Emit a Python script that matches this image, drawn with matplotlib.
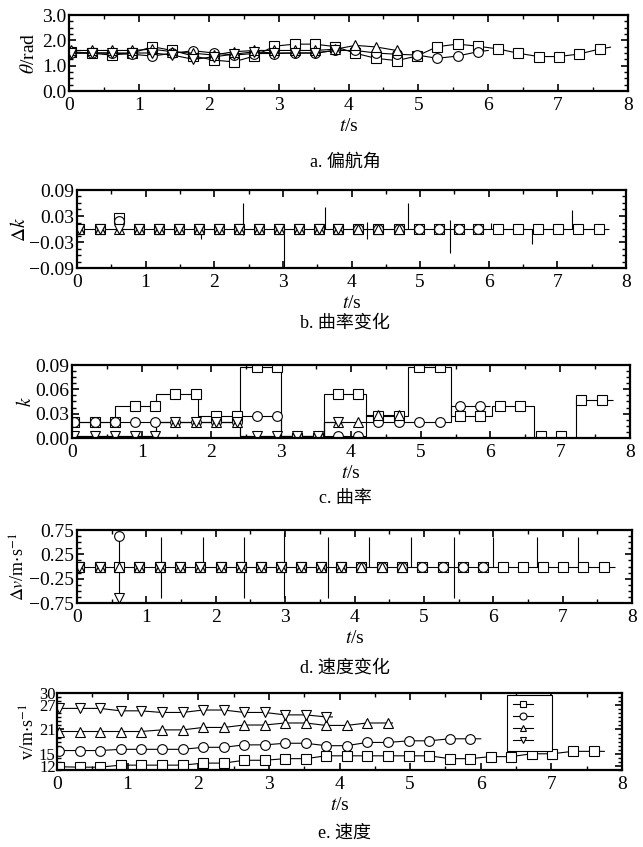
import matplotlib
matplotlib.use('Agg')
import matplotlib.pyplot as plt
from matplotlib.ticker import MultipleLocator
from matplotlib.lines import Line2D

plt.rcParams['font.family'] = ['Liberation Serif', 'Noto Sans CJK SC']
plt.rcParams['mathtext.fontset'] = 'stix'

# sample times (s) of the markers
t_all = [0.03, 0.33, 0.61, 0.90, 1.19, 1.48, 1.78, 2.07, 2.36, 2.65, 2.94,
         3.23, 3.52, 3.81, 4.10, 4.39, 4.69, 4.98, 5.27, 5.56, 5.85, 6.14,
         6.43, 6.72, 7.01, 7.30, 7.60]
# end of each vehicle's line
t_end_sq = 7.75
t_end_ci = 6.0
t_end_up = 4.75
t_end_dn = 3.9

# a. yaw angle (rad)
theta_sq = [1.55, 1.49, 1.42, 1.49, 1.75, 1.60, 1.38, 1.22, 1.15, 1.38, 1.77,
            1.85, 1.85, 1.75, 1.49, 1.29, 1.20, 1.38, 1.75, 1.85, 1.77, 1.66,
            1.49, 1.36, 1.36, 1.46, 1.66, 1.73]
theta_ci = [1.49, 1.50, 1.50, 1.45, 1.38, 1.49, 1.59, 1.50, 1.42, 1.48, 1.48,
            1.50, 1.50, 1.60, 1.60, 1.50, 1.45, 1.42, 1.29, 1.38, 1.55, 1.60]
theta_up = [1.60, 1.60, 1.60, 1.60, 1.65, 1.55, 1.49, 1.42, 1.55, 1.60, 1.60,
            1.60, 1.60, 1.65, 1.80, 1.74, 1.60, 1.55]
theta_dn = [1.50, 1.50, 1.50, 1.50, 1.50, 1.42, 1.25, 1.35, 1.45, 1.55, 1.50,
            1.50, 1.50, 1.60, 1.62]

# b. curvature change: marker values and spikes
dk_sq = [0, 0, 0.025] + [0] * 24
dk_ci = [0, 0, 0.018] + [0] * 18
dk_up = [0] * 17
dk_dn = [0] * 14
dk_spike_t = [1.81, 2.42, 3.01, 3.62, 4.22, 4.82, 5.43, 6.03, 6.63, 7.22]
dk_spike_lo = [-0.024, -0.014, -0.095, 0, -0.024, 0, -0.055, 0, -0.034, 0]
dk_spike_hi = [0, 0.059, 0, 0.051, 0.017, 0.059, 0.020, 0.013, 0, 0.043]

# c. curvature: piecewise-constant lines and marker values
k_edges_sq = [0, 0.62, 1.21, 1.81, 2.41, 3.0, 3.62, 4.22, 4.82, 5.43, 6.02,
              6.63, 7.22, 7.75]
k_line_sq = [0.02, 0.04, 0.054, 0.027, 0.088, 0.0, 0.054, 0.027, 0.088,
             0.027, 0.04, 0.0, 0.047]
k_edges_ci = [0, 0.62, 1.21, 1.81, 2.41, 3.0, 3.62, 4.22, 4.82, 5.43, 6.0]
k_line_ci = [0.02, 0.02, 0.02, 0.02, 0.027, 0.003, 0.002, 0.02, 0.02, 0.04]
k_edges_up = [0, 0.62, 1.21, 1.81, 2.41, 3.0, 3.62, 4.22, 4.75]
k_line_up = [0.003, 0.003, 0.02, 0.02, 0.002, 0.003, 0.02, 0.028]
k_edges_dn = [0, 0.62, 1.21, 1.81, 2.41, 3.0, 3.62, 3.9]
k_line_dn = [0.003, 0.003, 0.02, 0.02, 0.003, 0.003, 0.02]
k_sq = [0.02, 0.02, 0.02, 0.04, 0.04, 0.054, 0.054, 0.027, 0.027, 0.088,
        0.088, 0.0, 0.0, 0.054, 0.054, 0.027, 0.027, 0.088, 0.088, 0.027,
        0.027, 0.04, 0.04, 0.002, 0.002, 0.047, 0.047]
k_ci = [0.02, 0.02, 0.02, 0.02, 0.02, 0.02, 0.02, 0.02, 0.02, 0.027, 0.027,
        0.003, 0.003, 0.002, 0.002, 0.02, 0.02, 0.02, 0.02, 0.04, 0.04]
k_up = [0.003, 0.003, 0.003, 0.003, 0.003, 0.02, 0.02, 0.02, 0.02, 0.002,
        0.002, 0.003, 0.003, 0.02, 0.02, 0.028, 0.028]
k_dn = [0.003, 0.003, 0.003, 0.003, 0.003, 0.02, 0.02, 0.02, 0.02, 0.003,
        0.003, 0.003, 0.003, 0.02]

# d. speed change: marker values and spikes
dv_sq = [0] * 27
dv_ci = [0, 0, 0.63] + [0] * 18
dv_up = [0] * 17
dv_dn = [0, 0, -0.65] + [0] * 11
dv_spike_t = [0.61, 1.21, 1.81, 2.41, 2.99, 3.62, 4.21, 4.82, 5.43, 6.0, 6.63, 7.22]
dv_spike_lo = [-0.65, -0.65, 0, -0.65, -0.65, -0.65, 0, 0, -0.65, 0, 0, 0]
dv_spike_hi = [0.63, 0.61, 0.61, 0.61, 0.70, 0.61, 0.61, 0.61, 0.61, 0.61, 0.61, 0.61]

# e. speed (m/s)
v_sq = [11.8, 11.7, 11.7, 12.2, 12.2, 12.2, 12.2, 12.7, 12.7, 13.4, 13.4,
        13.8, 13.8, 14.5, 14.5, 14.5, 14.5, 14.5, 14.5, 13.8, 13.8, 14.3,
        14.3, 15.0, 15.0, 15.6, 15.6, 15.6]
v_ci = [15.8, 15.8, 15.8, 16.1, 16.1, 16.1, 16.1, 16.6, 16.6, 17.2, 17.2,
        17.6, 17.6, 17.0, 17.0, 17.8, 17.8, 18.2, 18.2, 18.7, 18.7, 18.7]
v_up = [20.5, 20.5, 20.5, 20.5, 20.5, 20.9, 20.9, 21.5, 21.5, 22.1, 22.1,
        22.6, 22.6, 22.0, 22.0, 22.6, 22.6, 22.6]
v_dn = [26.2, 26.2, 26.2, 25.6, 25.6, 25.2, 25.2, 25.8, 25.8, 25.2, 25.2,
        24.6, 24.6, 24.1, 24.1]

W, H = 643, 847
fig = plt.figure(figsize=(W / 100, H / 100), dpi=100)
FS = 14


def add_ax(l, r, t, b):
    return fig.add_axes([l / W, 1 - b / H, (r - l) / W, (b - t) / H])


def style(ax, ylim, yticks, yminor):
    ax.set_xlim(0, 8)
    ax.set_xticks(range(9))
    ax.xaxis.set_minor_locator(MultipleLocator(0.5))
    ax.set_ylim(*ylim)
    ax.set_yticks(yticks)
    ax.yaxis.set_minor_locator(MultipleLocator(yminor))
    ax.tick_params(which='both', direction='in', top=True, right=True,
                   labelsize=FS)
    ax.tick_params(which='major', length=5, width=1.2)
    ax.tick_params(which='minor', length=3, width=1.0)
    ax.tick_params(axis='x', pad=4)
    ax.tick_params(axis='y', pad=2)
    for sp in ax.spines.values():
        sp.set_linewidth(1.6)
    ax.set_xlabel('$t$/s', fontsize=FS, labelpad=3)


def caption(y, s):
    fig.text(345 / W, 1 - y / H, s, ha='center', va='center', fontsize=13)


n_sq, n_ci, n_up, n_dn = 27, 21, 17, 14
t_sq = t_all[:n_sq] + [t_end_sq]
t_ci = t_all[:n_ci] + [t_end_ci]
t_up = t_all[:n_up] + [t_end_up]
t_dn = t_all[:n_dn] + [t_end_dn]
markers = ['s', 'o', '^', 'v']
mk = dict(color='k', lw=0.8, ms=7, mfc='white', mec='k', mew=0.8)


def four_lines(ax, ys):
    for t, y, m in zip([t_sq, t_ci, t_up, t_dn], ys, markers):
        ax.plot(t, y, marker=m, markevery=slice(0, len(t) - 1), **mk)


def four_marks(ax, ys):
    for n, y, m in zip([n_sq, n_ci, n_up, n_dn], ys, markers):
        ax.plot(t_all[:n], y, marker=m, ls='none', **mk)


# a
ax = add_ax(69, 628, 15, 91)
four_lines(ax, [theta_sq, theta_ci, theta_up, theta_dn])
style(ax, (0, 3), [0, 1, 2, 3], 0.25)
ax.set_yticklabels(['0.0', '1.0', '2.0', '3.0'])
ax.set_ylabel(r'$\theta$/rad', fontsize=FS, labelpad=3)
caption(162, 'a. 偏航角')

# b
ax = add_ax(77, 626, 190, 268)
ax.hlines(0, 0, t_end_sq, color='k', lw=0.8)
ax.vlines(dk_spike_t, dk_spike_lo, dk_spike_hi, color='k', lw=0.8)
four_marks(ax, [dk_sq, dk_ci, dk_up, dk_dn])
style(ax, (-0.09, 0.09), [-0.09, -0.03, 0.03, 0.09], 0.015)
ax.set_yticklabels(['\u22120.09', '\u22120.03', '0.03', '0.09'])
ax.set_ylabel(r'$\Delta k$', fontsize=FS, labelpad=0)
caption(323, 'b. 曲率变化')

# c
ax = add_ax(72, 630, 365, 438)
for e, v in zip([k_edges_sq, k_edges_ci, k_edges_up, k_edges_dn],
                [k_line_sq, k_line_ci, k_line_up, k_line_dn]):
    ax.stairs(v, e, color='k', lw=0.8, baseline=None)
four_marks(ax, [k_sq, k_ci, k_up, k_dn])
style(ax, (0, 0.09), [0, 0.03, 0.06, 0.09], 0.0075)
ax.set_yticklabels(['0.00', '0.03', '0.06', '0.09'])
ax.set_ylabel(r'$k$', fontsize=FS, labelpad=0)
caption(498, 'c. 曲率')

# d
ax = add_ax(77, 632, 530, 603)
ax.hlines(0, 0, t_end_sq, color='k', lw=0.8)
ax.vlines(dv_spike_t, dv_spike_lo, dv_spike_hi, color='k', lw=0.8)
four_marks(ax, [dv_sq, dv_ci, dv_up, dv_dn])
style(ax, (-0.75, 0.75), [-0.75, -0.25, 0.25, 0.75], 0.125)
ax.set_yticklabels(['\u22120.75', '\u22120.25', '0.25', '0.75'])
ax.set_ylabel(r'$\Delta v$/m$\cdot$s$^{-1}$', fontsize=FS - 1, labelpad=0)
caption(668, 'd. 速度变化')

# e
ax = add_ax(57, 622, 693, 770)
four_lines(ax, [v_sq, v_ci, v_up, v_dn])
style(ax, (11, 30), [12, 15, 21, 27, 30], 1)
ax.tick_params(axis='y', labelsize=12, pad=1)
ax.set_ylabel(r'v/m$\cdot$s$^{-1}$', fontsize=FS - 1, labelpad=0)
handles = [Line2D([], [], marker=m, color='k', lw=0.8, ms=5, mfc='white',
                  mec='k', mew=0.8) for m in markers]
leg = ax.legend(handles, [''] * 4, loc='upper left',
                bbox_to_anchor=(0.796, 0.975), borderaxespad=0,
                fancybox=False, edgecolor='k', framealpha=1, fontsize=6,
                handlelength=2.4, handletextpad=1.6, labelspacing=0.5,
                borderpad=0.7, handleheight=0.7)
leg.get_frame().set_linewidth(0.8)
caption(833, 'e. 速度')

fig.savefig('out.png', dpi=100)
